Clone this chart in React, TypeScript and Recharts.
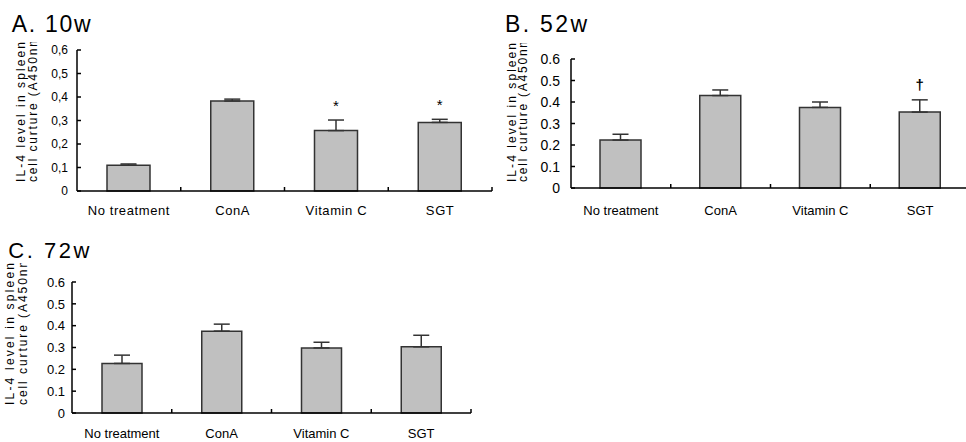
import { Bar, BarChart, ErrorBar, LabelList, XAxis, YAxis } from "recharts"

const categories = ["No treatment", "ConA", "Vitamin C", "SGT"]
const yTicks = [0, 0.1, 0.2, 0.3, 0.4, 0.5, 0.6]

// A. 10w
const meansA = [0.11, 0.383, 0.257, 0.292]
const sdA = [0.005, 0.008, 0.045, 0.013]
const marksA = ["", "", "*", "*"]

// B. 52w
const meansB = [0.223, 0.43, 0.375, 0.353]
const sdB = [0.027, 0.026, 0.025, 0.057]
const marksB = ["", "", "", "†"]

// C. 72w
const meansC = [0.227, 0.375, 0.298, 0.303]
const sdC = [0.038, 0.032, 0.026, 0.053]
const marksC = ["", "", "", ""]

const FONT = "'Liberation Sans', Arial, sans-serif"

function buildData(means: number[], sds: number[], marks: string[]) {
  return categories.map((name, i) => ({
    name,
    mean: means[i],
    errRange: [0, sds[i]],
    mark: marks[i],
  }))
}

function XTick(props: any) {
  const { x, y, payload, width, visibleTicksCount, fontSize, spacing, baseline } = props
  const cw = width / visibleTicksCount
  return (
    <g>
      <line x1={x + cw / 2} y1={y} x2={x + cw / 2} y2={y - 4} stroke="#000" strokeWidth={1.5} />
      <text x={x} y={y + baseline} textAnchor="middle" fontSize={fontSize} letterSpacing={spacing} fill="#000" fontFamily={FONT}>
        {payload.value}
      </text>
    </g>
  )
}

function YTick(props: any) {
  const { x, y, payload, fontSize, gap, comma } = props
  const v = payload.value as number
  let s = v === 0 ? "0" : v.toFixed(1)
  if (comma) s = s.replace(".", ",")
  return (
    <g>
      <line x1={x} y1={y} x2={x + 4} y2={y} stroke="#000" strokeWidth={1.5} />
      <text x={x - gap} y={y + fontSize * 0.36} textAnchor="end" fontSize={fontSize} fill="#000" fontFamily={FONT}>
        {s}
      </text>
    </g>
  )
}

function markRenderer(means: number[], sds: number[], lift: number, bold: boolean) {
  return (p: any) => {
    if (!p.value) return null
    const vb = p.viewBox || p
    const i = p.index
    const pxPerUnit = vb.height / means[i]
    const top = vb.y - sds[i] * pxPerUnit
    return (
      <text x={vb.x + vb.width / 2} y={top - lift} textAnchor="middle" fontSize={15} fontWeight={bold ? "bold" : "normal"} fill="#000" fontFamily={FONT}>
        {p.value}
      </text>
    )
  }
}

type PanelProps = {
  left: number
  top: number
  width: number
  height: number
  margin: { top: number; right: number; left: number; bottom: number }
  yWidth: number
  xHeight: number
  means: number[]
  sds: number[]
  marks: string[]
  barSize: number
  comma: boolean
  yFont: number
  yGap: number
  xFont: number
  xSpacing: number
  xBaseline: number
  markLift: number
  markBold: boolean
}

function Panel(p: PanelProps) {
  const data = buildData(p.means, p.sds, p.marks)
  return (
    <div style={{ position: "absolute", left: p.left, top: p.top }}>
      <BarChart width={p.width} height={p.height} data={data} margin={p.margin} barCategoryGap={0}>
        <XAxis
          dataKey="name"
          height={p.xHeight}
          tickSize={0}
          tickMargin={0}
          interval={0}
          axisLine={{ stroke: "#000", strokeWidth: 1.5 }}
          tickLine={false}
          tick={<XTick fontSize={p.xFont} spacing={p.xSpacing} baseline={p.xBaseline} />}
        />
        <YAxis
          width={p.yWidth}
          domain={[0, 0.6]}
          ticks={yTicks}
          interval={0}
          tickSize={0}
          tickMargin={0}
          axisLine={{ stroke: "#000", strokeWidth: 1.5 }}
          tickLine={false}
          tick={<YTick fontSize={p.yFont} gap={p.yGap} comma={p.comma} />}
        />
        <Bar dataKey="mean" fill="#c0c0c0" stroke="#333" strokeWidth={1.5} barSize={p.barSize} isAnimationActive={false}>
          <ErrorBar dataKey="errRange" direction="y" width={8} stroke="#333" strokeWidth={1.5} isAnimationActive={false} />
          <LabelList dataKey="mark" content={markRenderer(p.means, p.sds, p.markLift, p.markBold)} />
        </Bar>
      </BarChart>
    </div>
  )
}

function YLabel({ x1, x2, start, end, id }: { x1: number; x2: number; start: number; end: number; id: string }) {
  const len = start - end
  return (
    <g fontFamily={FONT} fontSize={12} fill="#000">
      <clipPath id={id}>
        <rect x={0} y={end} width={966} height={len + 10} />
      </clipPath>
      <text transform={`translate(${x1},${start}) rotate(-90)`} textLength={len} lengthAdjust="spacing">
        IL-4 level in spleen
      </text>
      <g clipPath={`url(#${id})`}>
        <text transform={`translate(${x2},${start}) rotate(-90)`} textLength={len * 1.08} lengthAdjust="spacing">
          cell curture (A450nm)
        </text>
      </g>
    </g>
  )
}

export default function App() {
  return (
    <div style={{ position: "absolute", left: 0, top: 0, width: 966, height: 442, overflow: "hidden", background: "#fff" }}>
      <Panel
        left={0}
        top={0}
        width={500}
        height={225}
        margin={{ top: 50, right: 8, left: 0, bottom: 0 }}
        yWidth={77}
        xHeight={34}
        means={meansA}
        sds={sdA}
        marks={marksA}
        barSize={43}
        comma={true}
        yFont={12}
        yGap={9}
        xFont={13}
        xSpacing={0.6}
        xBaseline={24}
        markLift={9}
        markBold={false}
      />
      <Panel
        left={490}
        top={0}
        width={490}
        height={225}
        margin={{ top: 59, right: 10, left: 0, bottom: 0 }}
        yWidth={81}
        xHeight={37}
        means={meansB}
        sds={sdB}
        marks={marksB}
        barSize={41}
        comma={false}
        yFont={14}
        yGap={11}
        xFont={13}
        xSpacing={0}
        xBaseline={27}
        markLift={10}
        markBold={true}
      />
      <Panel
        left={0}
        top={230}
        width={480}
        height={212}
        margin={{ top: 52, right: 9, left: 0, bottom: 0 }}
        yWidth={72}
        xHeight={29}
        means={meansC}
        sds={sdC}
        marks={marksC}
        barSize={40}
        comma={false}
        yFont={13}
        yGap={7}
        xFont={13}
        xSpacing={0}
        xBaseline={25}
        markLift={5}
        markBold={false}
      />
      <svg width={966} height={442} style={{ position: "absolute", left: 0, top: 0, pointerEvents: "none" }}>
        <g fontFamily={FONT} fill="#000">
          <text x={11.7} y={31.7} fontSize={23} textLength={79} lengthAdjust="spacing">A. 10w</text>
          <text x={505} y={32.3} fontSize={23} textLength={82} lengthAdjust="spacing">B. 52w</text>
          <text x={8.3} y={258.3} fontSize={22} textLength={81} lengthAdjust="spacing">C. 72w</text>
        </g>
        <YLabel id="clipA" x1={25} x2={37} start={182} end={42} />
        <YLabel id="clipB" x1={515.5} x2={527} start={182} end={43} />
        <YLabel id="clipC" x1={14} x2={27} start={405} end={263} />
      </svg>
    </div>
  )
}
